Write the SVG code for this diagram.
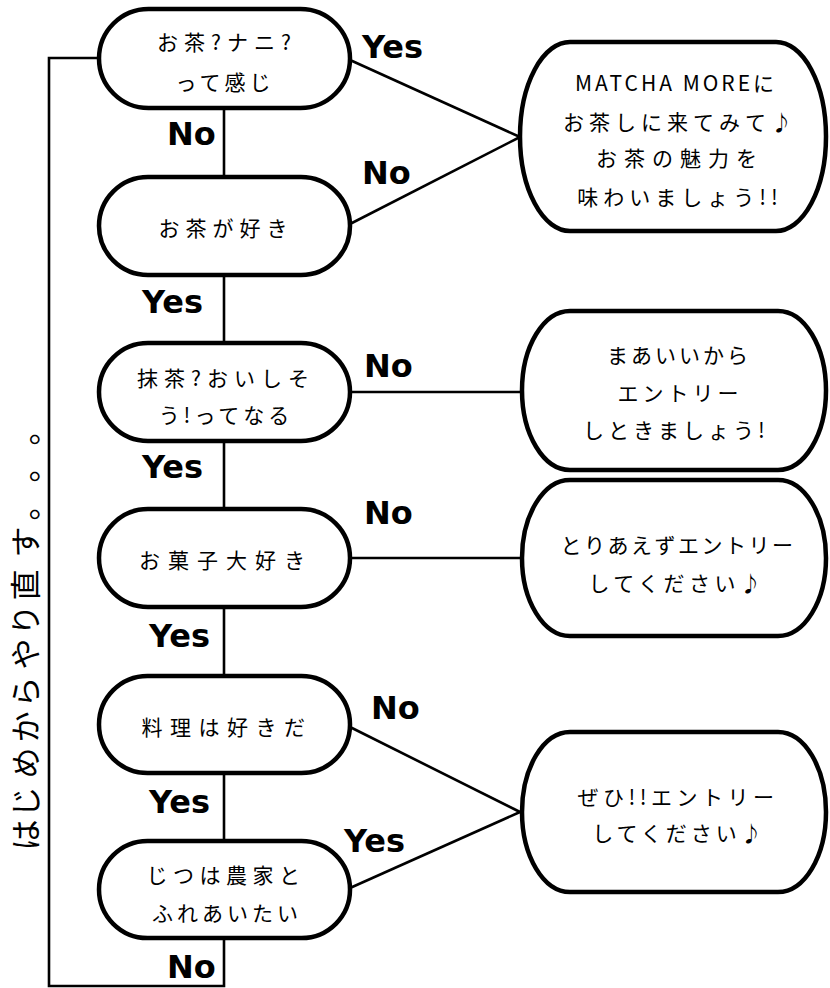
<svg xmlns="http://www.w3.org/2000/svg" width="830" height="988" viewBox="0 0 830 988">
<style>
.bg{fill:#fff}
.node{fill:#fff;stroke:#000;stroke-width:4.5}
.line{fill:none;stroke:#000;stroke-width:2.6}
.t{font-family:"Noto Sans CJK JP","Noto Sans CJK SC",sans-serif;font-size:21px;fill:#000;text-anchor:middle}
.lab{font-family:"DejaVu Sans",sans-serif;font-weight:bold;font-size:32px;fill:#000}
.side{font-family:"Noto Sans CJK JP","Noto Sans CJK SC",sans-serif;font-size:31px;fill:#000;text-anchor:middle}
</style>
<rect class="bg" x="0" y="0" width="830" height="988"/>
<g id="connectors">
<line class="line" x1="224" y1="108" x2="224" y2="177"/>
<line class="line" x1="224" y1="275" x2="224" y2="343"/>
<line class="line" x1="224" y1="441" x2="224" y2="509"/>
<line class="line" x1="224" y1="607" x2="224" y2="676"/>
<line class="line" x1="224" y1="773" x2="224" y2="841"/>
<polyline class="line" points="99,58 49,58 49,986 224,986 224,938"/>
<line class="line" x1="350" y1="60" x2="520" y2="137"/>
<line class="line" x1="350" y1="224" x2="520" y2="137"/>
<line class="line" x1="350" y1="392" x2="522" y2="392"/>
<line class="line" x1="350" y1="558" x2="522" y2="558"/>
<line class="line" x1="350" y1="727" x2="520" y2="812"/>
<line class="line" x1="350" y1="888" x2="520" y2="812"/>
<text class="lab" x="362" y="58">Yes</text>
<text class="lab" x="167" y="145">No</text>
<text class="lab" x="362" y="184">No</text>
<text class="lab" x="142" y="313">Yes</text>
<text class="lab" x="364" y="377">No</text>
<text class="lab" x="142" y="478">Yes</text>
<text class="lab" x="364" y="524">No</text>
<text class="lab" x="149" y="647">Yes</text>
<text class="lab" x="371" y="719">No</text>
<text class="lab" x="149" y="813">Yes</text>
<text class="lab" x="344" y="852">Yes</text>
<text class="lab" x="167" y="978">No</text>
</g>
<g id="n1">
<rect class="node" x="99" y="9" width="251" height="99" rx="49.5"/>
<text class="t" x="227" y="50" style="letter-spacing:6px">お茶?ナニ?</text>
<text class="t" x="225" y="90" style="letter-spacing:4px">って感じ</text>
</g>
<g id="n2">
<rect class="node" x="99" y="177" width="251" height="98" rx="49"/>
<text class="t" x="226" y="236" style="letter-spacing:6px">お茶が好き</text>
</g>
<g id="n3">
<rect class="node" x="99" y="343" width="251" height="98" rx="49"/>
<text class="t" x="226" y="386" style="letter-spacing:6px">抹茶?おいしそ</text>
<text class="t" x="226" y="423" style="letter-spacing:4px">う!ってなる</text>
</g>
<g id="n4">
<rect class="node" x="99" y="509" width="251" height="98" rx="49"/>
<text class="t" x="226" y="568" style="letter-spacing:8px">お菓子大好き</text>
</g>
<g id="n5">
<rect class="node" x="99" y="676" width="251" height="97" rx="48.5"/>
<text class="t" x="227" y="735" style="letter-spacing:7.5px">料理は好きだ</text>
</g>
<g id="n6">
<rect class="node" x="99" y="841" width="251" height="97" rx="48.5"/>
<text class="t" x="226" y="883" style="letter-spacing:5.5px">じつは農家と</text>
<text class="t" x="227" y="921" style="letter-spacing:4px">ふれあいたい</text>
</g>
<g id="r1">
<rect class="node" x="520" y="42" width="306" height="189" rx="50" ry="94.5"/>
<text class="t" x="676" y="91" style="letter-spacing:3px">MATCHA MOREに</text>
<text class="t" x="680" y="130" style="letter-spacing:5px">お茶しに来てみて♪</text>
<text class="t" x="680" y="166" style="letter-spacing:7px">お茶の魅力を</text>
<text class="t" x="680" y="205" style="letter-spacing:5px">味わいましょう!!</text>
</g>
<g id="r2">
<rect class="node" x="522" y="311" width="304" height="159" rx="48" ry="79.5"/>
<text class="t" x="679" y="363" style="letter-spacing:3px">まあいいから</text>
<text class="t" x="680" y="401" style="letter-spacing:4px">エントリー</text>
<text class="t" x="676" y="438" style="letter-spacing:4px">しときましょう!</text>
</g>
<g id="r3">
<rect class="node" x="522" y="480" width="304" height="156" rx="48" ry="78"/>
<text class="t" x="678" y="553" style="letter-spacing:2.5px">とりあえずエントリー</text>
<text class="t" x="677" y="591" style="letter-spacing:4.5px">してください♪</text>
</g>
<g id="r4">
<rect class="node" x="522" y="732" width="304" height="160" rx="48" ry="80"/>
<text class="t" x="678" y="805" style="letter-spacing:4.5px">ぜひ!!エントリー</text>
<text class="t" x="679" y="841" style="letter-spacing:4px">してください♪</text>
</g>
<g id="side">
<text class="side" transform="translate(37,0) rotate(-90)" x="-835 -802 -763 -727 -692 -654 -620 -585 -542 -505 -467 -430" y="0">はじめからやり直す。。。</text>
</g>
</svg>
